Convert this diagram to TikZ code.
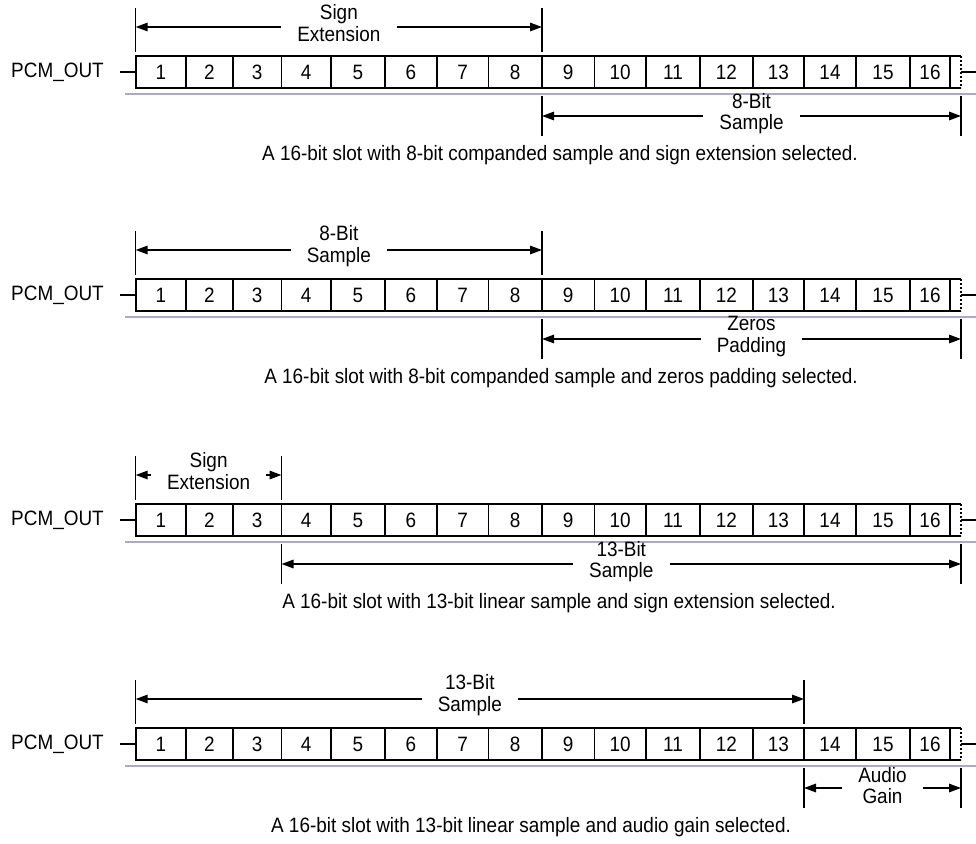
\documentclass[tikz,border=0pt]{standalone}
\usepackage{fontspec}
\setmainfont{Liberation Sans}[FakeStretch=0.91]
\usetikzlibrary{arrows.meta}
\definecolor{graylc}{RGB}{170,170,200}
\newcommand\pcmrow[2]{%
  \foreach \a/\b [count=\i] in {135.7/186,186/232.7,232.7/281.5,281.5/331,331/385,385/436.7,436.7/488.5,488.5/542,542/594.3,594.3/646,646/700,700/752.7,752.7/804,804/856,856/910,910/950}{
    \draw[cellline] (\a,#2) rectangle (\b,#2+32);
    \node[txt] (#1c\i) at ({(\a+\b)/2},#2+16) {\i};
  }
  \draw[cellline] (950,#2) -- (961,#2) (950,#2+32) -- (961,#2+32);
  \draw[dotedge] (961,#2) -- (961,#2+32);
  \node[txt] (#1lbl) at (57.5,#2+16) {PCM\_OUT};
  \coordinate (#1inA) at (120,#2+16);
  \coordinate (#1inB) at (135.7,#2+16);
  \coordinate (#1outA) at (961,#2+16);
  \coordinate (#1outB) at (976,#2+16);
  \draw[tick] (#1inA) -- (#1inB);
  \draw[tick] (#1outA) -- (#1outB);
  \coordinate (#1gA) at (125,#2+38);
  \coordinate (#1gB) at (976,#2+38);
  \draw[grayline] (#1gA) -- (#1gB);
}
% name, top, x1, x2, line1, line2
\newcommand\topspan[6]{%
  \coordinate (#1L) at (#3,#2-29);
  \coordinate (#1R) at (#4,#2-29);
  \coordinate (#1La) at (#3,#2-48);
  \coordinate (#1Lb) at (#3,#2-4);
  \coordinate (#1Ra) at (#4,#2-48);
  \coordinate (#1Rb) at (#4,#2-4);
  \draw[tick] (#1La) -- (#1Lb);
  \draw[tick] (#1Ra) -- (#1Rb);
  \node[txt,align=center,inner xsep=16pt] (#1t) at ({(#3+#4)/2},#2-33) {#5\\#6};
  \draw[dimarrow] (#1t.west |- #1L) -- (#1L);
  \draw[dimarrow] (#1t.east |- #1R) -- (#1R);
}
\newcommand\botspan[6]{%
  \coordinate (#1L) at (#3,#2+60);
  \coordinate (#1R) at (#4,#2+60);
  \coordinate (#1La) at (#3,#2+40);
  \coordinate (#1Lb) at (#3,#2+80);
  \coordinate (#1Ra) at (#4,#2+40);
  \coordinate (#1Rb) at (#4,#2+80);
  \draw[tick] (#1La) -- (#1Lb);
  \draw[tick] (#1Ra) -- (#1Rb);
  \node[txt,align=center,inner xsep=16pt] (#1t) at ({(#3+#4)/2},#2+57.4) {#5\\#6};
  \draw[dimarrow] (#1t.west |- #1L) -- (#1L);
  \draw[dimarrow] (#1t.east |- #1R) -- (#1R);
}
\begin{document}
\begin{tikzpicture}[x=1pt,y=-1pt,
  txt/.style={font=\fontsize{20.8}{21.5}\selectfont,inner sep=0pt},
  cellline/.style={line width=1.6pt},
  tick/.style={line width=1.5pt},
  dotedge/.style={line width=2.4pt,dash pattern=on 2.4pt off 1.6pt},
  dimarrow/.style={line width=1.5pt,-{Triangle[length=12pt,width=8.5pt]}},
  grayline/.style={line width=1.8pt,color=graylc},
  caption/.style={txt}]
\useasboundingbox (0,0) rectangle (976,843);
% Row 1
\pcmrow{ra}{56}
\topspan{raT}{56}{135.7}{542}{Sign}{Extension}
\botspan{raB}{56}{542}{961}{8-Bit}{Sample}
\node[caption] (raCap) at (560,155) {A 16-bit slot with 8-bit companded sample and sign extension selected.};
% Row 2
\pcmrow{rb}{279}
\topspan{rbT}{279}{135.7}{542}{8-Bit}{Sample}
\botspan{rbB}{279}{542}{961}{Zeros}{Padding}
\node[caption] (rbCap) at (561,378) {A 16-bit slot with 8-bit companded sample and zeros padding selected.};
% Row 3
\pcmrow{rc}{504}
\topspan{rcT}{504}{135.7}{281.5}{Sign}{Extension}
\botspan{rcB}{504}{281.5}{961}{13-Bit}{Sample}
\node[caption] (rcCap) at (559,603) {A 16-bit slot with 13-bit linear sample and sign extension selected.};
% Row 4
\pcmrow{rd}{728}
\topspan{rdT}{728}{135.7}{804}{13-Bit}{Sample}
\botspan{rdB}{728}{804}{961}{Audio}{Gain}
\node[caption] (rdCap) at (531,827) {A 16-bit slot with 13-bit linear sample and audio gain selected.};
\end{tikzpicture}
\end{document}
